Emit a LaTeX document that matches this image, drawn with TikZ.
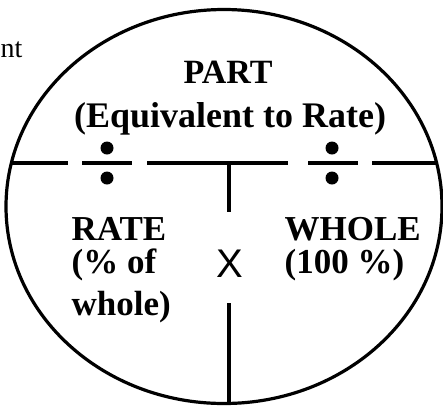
\documentclass[tikz,border=0pt]{standalone}
\usepackage{fontspec}
\setmainfont{Liberation Serif}
\newfontfamily\sansx{Liberation Sans}
\begin{document}
\begin{tikzpicture}[x=1pt,y=-1pt,line width=3.2pt,
  lbl/.style={inner sep=0pt,anchor=north west,align=left,font=\fontsize{35}{33}\selectfont\bfseries},
  dot/.style={circle,fill=black,draw=none,minimum size=13pt,inner sep=0pt}]
\useasboundingbox (0,0) rectangle (443,408);
\begin{scope}
\clip (224,206.5) ellipse [x radius=218, y radius=197];
\draw (0,163) -- (68,163);
\draw (82,163) -- (132,163);
\draw (147,163) -- (288,163);
\draw (308,163) -- (358,163);
\draw (372,163) -- (443,163);
\coordinate (vt) at (229,163);
\coordinate (vm1) at (229,212);
\coordinate (vm2) at (229,303);
\coordinate (vb) at (229,410);
\draw (vt) -- (vm1);
\draw (vm2) -- (vb);
\end{scope}
\draw (224,206.5) ellipse [x radius=218, y radius=197];
\node[dot] (d1) at (107,148) {};
\node[dot] (d2) at (107,178) {};
\node[dot] (d3) at (332,148) {};
\node[dot] (d4) at (332,178) {};
\node[inner sep=0pt,anchor=base west,font=\fontsize{28}{30}\selectfont] (nt) at (-1,57) {nt};
\node[inner sep=0pt,anchor=base,font=\fontsize{34}{36}\selectfont\bfseries] (part) at (228,83) {PART};
\node[inner sep=0pt,anchor=base,font=\fontsize{36}{38}\selectfont\bfseries] (eq) at (230,127) {(Equivalent to Rate)};
\node[lbl] (rate) at (70,216) {RATE\\(\% of\\[9pt]whole)};
\node[lbl] (wh) at (283,216) {WHOLE\\(100 \%)};
\node[inner sep=0pt,anchor=base,font=\fontsize{40}{42}\selectfont\sansx] (x) at (230,277) {X};
\end{tikzpicture}
\end{document}
